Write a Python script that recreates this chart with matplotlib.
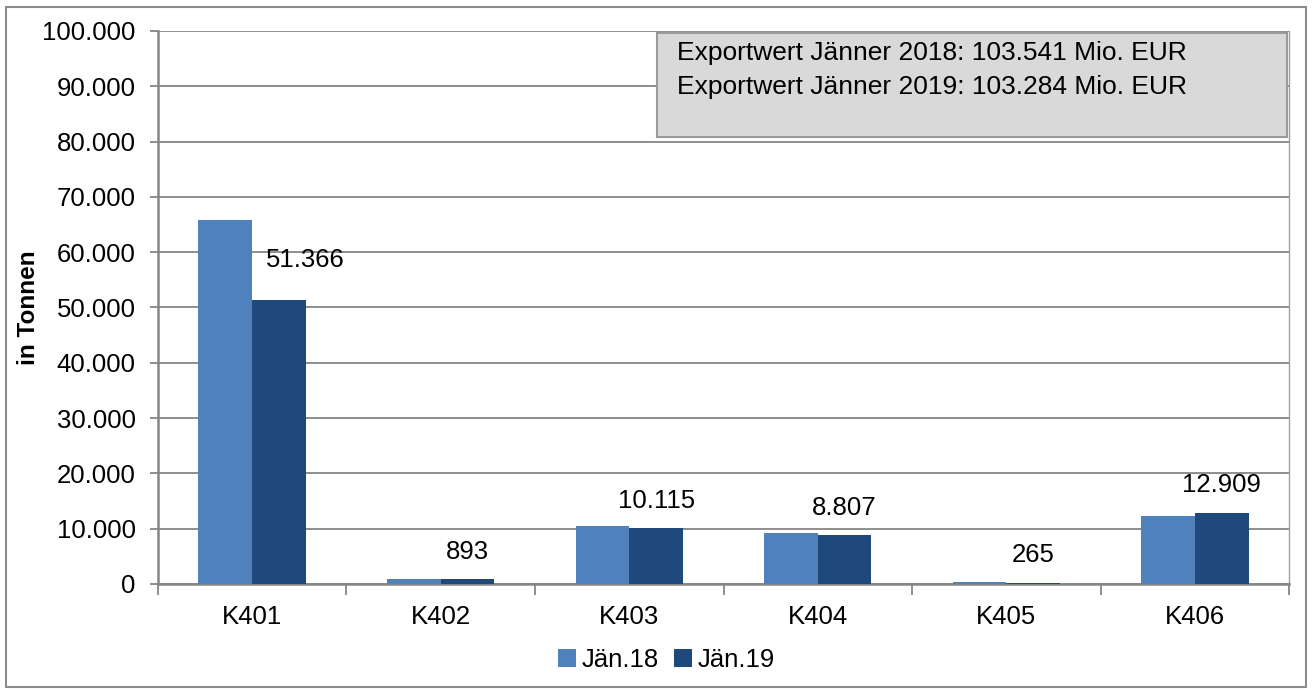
import matplotlib
matplotlib.use("Agg")
import matplotlib.pyplot as plt
import numpy as np
from matplotlib.patches import Rectangle

# Daten (in Tonnen)
kategorien = ["K401", "K402", "K403", "K404", "K405", "K406"]
jan18 = [65880, 880, 10500, 9200, 300, 12250]
jan19 = [51366, 893, 10115, 8807, 265, 12909]
serien = ["Jän.18", "Jän.19"]
info = ["Exportwert Jänner 2018: 103.541 Mio. EUR",
        "Exportwert Jänner 2019: 103.284 Mio. EUR"]

plt.rcParams["font.family"] = ["Liberation Sans", "DejaVu Sans"]

c18 = "#4F81BD"
c19 = "#1F497D"
grau = "#868686"
fs = 18.5

def fmt(v):
    return f"{v:,}".replace(",", ".")

fig = plt.figure(figsize=(13.12, 6.93), dpi=100)
ax = fig.add_axes([0.1204, 0.1573, 0.9825 - 0.1204, 0.9553 - 0.1573])

x = np.arange(len(kategorien))
b = 0.285
ax.bar(x - b / 2, jan18, b, color=c18, label=serien[0], zorder=3)
ax.bar(x + b / 2, jan19, b, color=c19, label=serien[1], zorder=3)

# Beschriftung der Jän.19-Balken (K401 wurde im Original verschoben)
for i, v in enumerate(jan19):
    if i == 0:
        off = (19, 20)
    else:
        off = (0, 11)
    ax.annotate(fmt(v), (x[i] + b / 2, v), xytext=off,
                textcoords="offset points", ha="center", va="bottom",
                fontsize=fs)

ax.set_xlim(-0.5, len(kategorien) - 0.5)
ax.set_ylim(0, 100000)
ax.set_yticks(np.arange(0, 100001, 10000))
ax.set_yticklabels([fmt(v) for v in range(0, 100001, 10000)], fontsize=fs)
ax.yaxis.grid(True, color=grau, linewidth=1.3, zorder=0)

ax.set_xticks(np.arange(-0.5, len(kategorien)), labels=[])
ax.set_xticks(x, labels=kategorien, minor=True, fontsize=fs)
ax.tick_params(axis="x", which="major", length=8, width=1.3, color=grau, direction="out")
ax.tick_params(axis="x", which="minor", length=0, pad=15)
ax.tick_params(axis="y", length=6, width=1.3, color=grau, pad=10)

for s in ["top", "right"]:
    ax.spines[s].set_visible(False)
for s in ["left", "bottom"]:
    ax.spines[s].set_color(grau)
    ax.spines[s].set_linewidth(1.8)
ax.spines["right"].set_visible(True)
ax.spines["right"].set_color("#a0a0a0")
ax.spines["right"].set_linewidth(1)

ax.set_ylabel("in Tonnen", fontsize=17.5, fontweight="bold", labelpad=2)

# Infobox
box = Rectangle((657 / 1312, 1 - 137 / 693), (1287 - 657) / 1312, (137 - 33) / 693,
                transform=fig.transFigure, facecolor="#d9d9d9", edgecolor="#9a9a9a",
                linewidth=1.5, zorder=5)
fig.patches.append(box)
fig.text(677 / 1312, 1 - 53 / 693, info[0], fontsize=19, va="center", zorder=6)
fig.text(677 / 1312, 1 - 87 / 693, info[1], fontsize=19, va="center", zorder=6)

leg = fig.legend(loc="center", bbox_to_anchor=(0.508, 1 - 660 / 693), ncol=2,
                 frameon=False, fontsize=fs, handlelength=0.7, handleheight=0.7,
                 handletextpad=0.2, columnspacing=0.6)

# Rahmen um die Grafik
fig.patches.append(Rectangle((6 / 1312, 6 / 693), 1 - 12 / 1312, 1 - 13 / 693,
                             transform=fig.transFigure, fill=False,
                             edgecolor="#8c8c8c", linewidth=1.5))

fig.savefig("out.png", dpi=100)
